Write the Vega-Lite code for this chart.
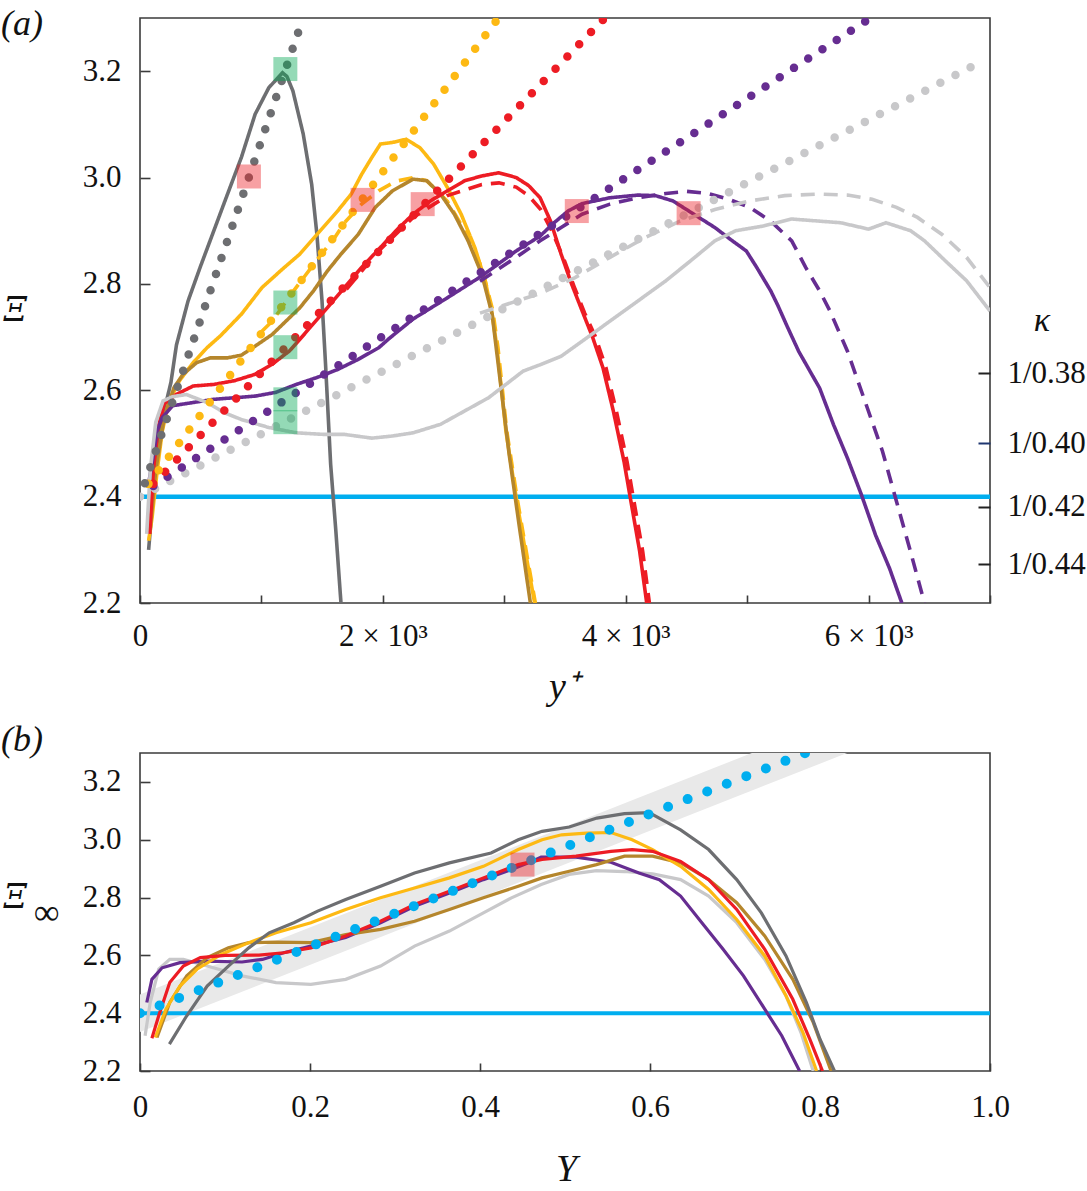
{
  "$schema": "https://vega.github.io/schema/vega-lite/v6.json",
  "background": "white",
  "padding": {"left": 0, "top": 4, "right": 0, "bottom": 0},
  "spacing": 13,
  "datasets": {
    "la": [
      {"s":"dg","t":"solid","x":71,"y":2.3},{"s":"dg","t":"solid","x":93,"y":2.36},{"s":"dg","t":"solid","x":113,"y":2.417},{"s":"dg","t":"solid","x":141,"y":2.473},{"s":"dg","t":"solid","x":170,"y":2.524},{"s":"dg","t":"solid","x":212,"y":2.574},{"s":"dg","t":"solid","x":255,"y":2.615},{"s":"dg","t":"solid","x":300,"y":2.685},{"s":"dg","t":"solid","x":396,"y":2.768},{"s":"dg","t":"solid","x":495,"y":2.831},{"s":"dg","t":"solid","x":608,"y":2.9},{"s":"dg","t":"solid","x":721,"y":2.969},{"s":"dg","t":"solid","x":835,"y":3.038},{"s":"dg","t":"solid","x":948,"y":3.119},{"s":"dg","t":"solid","x":1061,"y":3.169},{"s":"dg","t":"solid","x":1174,"y":3.197},{"s":"dg","t":"solid","x":1210,"y":3.19},{"s":"dg","t":"solid","x":1259,"y":3.163},{"s":"dg","t":"solid","x":1344,"y":3.082},{"s":"dg","t":"solid","x":1414,"y":2.987},{"s":"dg","t":"solid","x":1457,"y":2.893},{"s":"dg","t":"solid","x":1499,"y":2.768},{"s":"dg","t":"solid","x":1528,"y":2.649},{"s":"dg","t":"solid","x":1570,"y":2.461},{"s":"dg","t":"solid","x":1613,"y":2.335},{"s":"dg","t":"solid","x":1655,"y":2.2},
      {"s":"gold","t":"solid","x":71,"y":2.317},{"s":"gold","t":"solid","x":99,"y":2.36},{"s":"gold","t":"solid","x":141,"y":2.448},{"s":"gold","t":"solid","x":184,"y":2.524},{"s":"gold","t":"solid","x":240,"y":2.58},{"s":"gold","t":"solid","x":325,"y":2.618},{"s":"gold","t":"solid","x":438,"y":2.652},{"s":"gold","t":"solid","x":552,"y":2.68},{"s":"gold","t":"solid","x":665,"y":2.703},{"s":"gold","t":"solid","x":835,"y":2.743},{"s":"gold","t":"solid","x":1004,"y":2.793},{"s":"gold","t":"solid","x":1174,"y":2.828},{"s":"gold","t":"solid","x":1316,"y":2.856},{"s":"gold","t":"solid","x":1457,"y":2.893},{"s":"gold","t":"solid","x":1627,"y":2.937},{"s":"gold","t":"solid","x":1740,"y":2.969},{"s":"gold","t":"solid","x":1825,"y":3.006},{"s":"gold","t":"solid","x":1910,"y":3.038},{"s":"gold","t":"solid","x":1980,"y":3.063},{"s":"gold","t":"solid","x":2079,"y":3.066},{"s":"gold","t":"solid","x":2192,"y":3.072},{"s":"gold","t":"solid","x":2306,"y":3.056},{"s":"gold","t":"solid","x":2419,"y":3.025},{"s":"gold","t":"solid","x":2532,"y":2.981},{"s":"gold","t":"solid","x":2645,"y":2.931},{"s":"gold","t":"solid","x":2758,"y":2.868},{"s":"gold","t":"solid","x":2843,"y":2.806},{"s":"gold","t":"solid","x":2900,"y":2.743},{"s":"gold","t":"solid","x":2940,"y":2.68},{"s":"gold","t":"solid","x":3013,"y":2.524},{"s":"gold","t":"solid","x":3098,"y":2.398},{"s":"gold","t":"solid","x":3183,"y":2.285},{"s":"gold","t":"solid","x":3250,"y":2.2},
      {"s":"gold","t":"dashed","x":1000,"y":2.71},{"s":"gold","t":"dashed","x":1089,"y":2.73},{"s":"gold","t":"dashed","x":1259,"y":2.785},{"s":"gold","t":"dashed","x":1457,"y":2.845},{"s":"gold","t":"dashed","x":1598,"y":2.885},{"s":"gold","t":"dashed","x":1683,"y":2.915},{"s":"gold","t":"dashed","x":1825,"y":2.95},{"s":"gold","t":"dashed","x":1966,"y":2.975},{"s":"gold","t":"dashed","x":2108,"y":2.993},{"s":"gold","t":"dashed","x":2249,"y":3.0},{"s":"gold","t":"dashed","x":2362,"y":2.994},{"s":"gold","t":"dashed","x":2532,"y":2.955},{"s":"gold","t":"dashed","x":2702,"y":2.89},{"s":"gold","t":"dashed","x":2815,"y":2.83},{"s":"gold","t":"dashed","x":2905,"y":2.75},{"s":"gold","t":"dashed","x":2948,"y":2.68},{"s":"gold","t":"dashed","x":3020,"y":2.524},{"s":"gold","t":"dashed","x":3105,"y":2.398},{"s":"gold","t":"dashed","x":3190,"y":2.285},{"s":"gold","t":"dashed","x":3256,"y":2.2},
      {"s":"brown","t":"solid","x":80,"y":2.33},{"s":"brown","t":"solid","x":130,"y":2.45},{"s":"brown","t":"solid","x":200,"y":2.55},{"s":"brown","t":"solid","x":280,"y":2.605},{"s":"brown","t":"solid","x":354,"y":2.63},{"s":"brown","t":"solid","x":467,"y":2.652},{"s":"brown","t":"solid","x":580,"y":2.661},{"s":"brown","t":"solid","x":721,"y":2.661},{"s":"brown","t":"solid","x":835,"y":2.666},{"s":"brown","t":"solid","x":948,"y":2.683},{"s":"brown","t":"solid","x":1089,"y":2.705},{"s":"brown","t":"solid","x":1202,"y":2.73},{"s":"brown","t":"solid","x":1316,"y":2.755},{"s":"brown","t":"solid","x":1429,"y":2.787},{"s":"brown","t":"solid","x":1542,"y":2.824},{"s":"brown","t":"solid","x":1655,"y":2.856},{"s":"brown","t":"solid","x":1797,"y":2.893},{"s":"brown","t":"solid","x":1938,"y":2.944},{"s":"brown","t":"solid","x":2079,"y":2.975},{"s":"brown","t":"solid","x":2249,"y":2.997},{"s":"brown","t":"solid","x":2362,"y":2.994},{"s":"brown","t":"solid","x":2475,"y":2.969},{"s":"brown","t":"solid","x":2589,"y":2.931},{"s":"brown","t":"solid","x":2702,"y":2.881},{"s":"brown","t":"solid","x":2815,"y":2.818},{"s":"brown","t":"solid","x":2900,"y":2.743},{"s":"brown","t":"solid","x":2960,"y":2.63},{"s":"brown","t":"solid","x":3040,"y":2.48},{"s":"brown","t":"solid","x":3120,"y":2.35},{"s":"brown","t":"solid","x":3215,"y":2.2},
      {"s":"red","t":"solid","x":80,"y":2.33},{"s":"red","t":"solid","x":110,"y":2.45},{"s":"red","t":"solid","x":150,"y":2.53},{"s":"red","t":"solid","x":200,"y":2.575},{"s":"red","t":"solid","x":297,"y":2.592},{"s":"red","t":"solid","x":438,"y":2.608},{"s":"red","t":"solid","x":608,"y":2.611},{"s":"red","t":"solid","x":778,"y":2.618},{"s":"red","t":"solid","x":948,"y":2.63},{"s":"red","t":"solid","x":1089,"y":2.649},{"s":"red","t":"solid","x":1231,"y":2.674},{"s":"red","t":"solid","x":1344,"y":2.703},{"s":"red","t":"solid","x":1400,"y":2.718},{"s":"red","t":"solid","x":1542,"y":2.755},{"s":"red","t":"solid","x":1683,"y":2.793},{"s":"red","t":"solid","x":1825,"y":2.831},{"s":"red","t":"solid","x":1966,"y":2.865},{"s":"red","t":"solid","x":2108,"y":2.9},{"s":"red","t":"solid","x":2249,"y":2.931},{"s":"red","t":"solid","x":2391,"y":2.956},{"s":"red","t":"solid","x":2532,"y":2.975},{"s":"red","t":"solid","x":2674,"y":2.994},{"s":"red","t":"solid","x":2815,"y":3.003},{"s":"red","t":"solid","x":2956,"y":3.009},{"s":"red","t":"solid","x":3098,"y":3.0},{"s":"red","t":"solid","x":3200,"y":2.985},{"s":"red","t":"solid","x":3295,"y":2.962},{"s":"red","t":"solid","x":3381,"y":2.918},{"s":"red","t":"solid","x":3468,"y":2.856},{"s":"red","t":"solid","x":3554,"y":2.8},{"s":"red","t":"solid","x":3640,"y":2.75},{"s":"red","t":"solid","x":3727,"y":2.7},{"s":"red","t":"solid","x":3813,"y":2.642},{"s":"red","t":"solid","x":3899,"y":2.56},{"s":"red","t":"solid","x":3986,"y":2.466},{"s":"red","t":"solid","x":4043,"y":2.391},{"s":"red","t":"solid","x":4115,"y":2.297},{"s":"red","t":"solid","x":4173,"y":2.2},
      {"s":"red","t":"dashed","x":1700,"y":2.79},{"s":"red","t":"dashed","x":1966,"y":2.862},{"s":"red","t":"dashed","x":2249,"y":2.925},{"s":"red","t":"dashed","x":2532,"y":2.966},{"s":"red","t":"dashed","x":2815,"y":2.987},{"s":"red","t":"dashed","x":2956,"y":2.99},{"s":"red","t":"dashed","x":3098,"y":2.982},{"s":"red","t":"dashed","x":3200,"y":2.966},{"s":"red","t":"dashed","x":3300,"y":2.94},{"s":"red","t":"dashed","x":3390,"y":2.9},{"s":"red","t":"dashed","x":3485,"y":2.85},{"s":"red","t":"dashed","x":3575,"y":2.795},{"s":"red","t":"dashed","x":3662,"y":2.745},{"s":"red","t":"dashed","x":3752,"y":2.7},{"s":"red","t":"dashed","x":3838,"y":2.642},{"s":"red","t":"dashed","x":3924,"y":2.56},{"s":"red","t":"dashed","x":4011,"y":2.466},{"s":"red","t":"dashed","x":4068,"y":2.391},{"s":"red","t":"dashed","x":4140,"y":2.297},{"s":"red","t":"dashed","x":4195,"y":2.2},
      {"s":"purple","t":"solid","x":65,"y":2.417},{"s":"purple","t":"solid","x":99,"y":2.461},{"s":"purple","t":"solid","x":141,"y":2.524},{"s":"purple","t":"solid","x":184,"y":2.549},{"s":"purple","t":"solid","x":269,"y":2.571},{"s":"purple","t":"solid","x":438,"y":2.577},{"s":"purple","t":"solid","x":608,"y":2.583},{"s":"purple","t":"solid","x":778,"y":2.586},{"s":"purple","t":"solid","x":948,"y":2.589},{"s":"purple","t":"solid","x":1117,"y":2.596},{"s":"purple","t":"solid","x":1287,"y":2.611},{"s":"purple","t":"solid","x":1457,"y":2.624},{"s":"purple","t":"solid","x":1627,"y":2.639},{"s":"purple","t":"solid","x":1796,"y":2.658},{"s":"purple","t":"solid","x":1966,"y":2.68},{"s":"purple","t":"solid","x":2050,"y":2.697},{"s":"purple","t":"solid","x":2249,"y":2.734},{"s":"purple","t":"solid","x":2532,"y":2.774},{"s":"purple","t":"solid","x":2815,"y":2.815},{"s":"purple","t":"solid","x":3098,"y":2.862},{"s":"purple","t":"solid","x":3295,"y":2.89},{"s":"purple","t":"solid","x":3410,"y":2.915},{"s":"purple","t":"solid","x":3525,"y":2.937},{"s":"purple","t":"solid","x":3640,"y":2.951},{"s":"purple","t":"solid","x":3870,"y":2.962},{"s":"purple","t":"solid","x":4101,"y":2.967},{"s":"purple","t":"solid","x":4245,"y":2.966},{"s":"purple","t":"solid","x":4389,"y":2.956},{"s":"purple","t":"solid","x":4561,"y":2.931},{"s":"purple","t":"solid","x":4734,"y":2.906},{"s":"purple","t":"solid","x":4878,"y":2.881},{"s":"purple","t":"solid","x":4993,"y":2.862},{"s":"purple","t":"solid","x":5079,"y":2.831},{"s":"purple","t":"solid","x":5194,"y":2.787},{"s":"purple","t":"solid","x":5252,"y":2.76},{"s":"purple","t":"solid","x":5330,"y":2.72},{"s":"purple","t":"solid","x":5425,"y":2.673},{"s":"purple","t":"solid","x":5597,"y":2.604},{"s":"purple","t":"solid","x":5712,"y":2.535},{"s":"purple","t":"solid","x":5827,"y":2.472},{"s":"purple","t":"solid","x":5942,"y":2.403},{"s":"purple","t":"solid","x":6057,"y":2.328},{"s":"purple","t":"solid","x":6173,"y":2.265},{"s":"purple","t":"solid","x":6274,"y":2.2},
      {"s":"purple","t":"dashed","x":2800,"y":2.805},{"s":"purple","t":"dashed","x":3098,"y":2.85},{"s":"purple","t":"dashed","x":3295,"y":2.881},{"s":"purple","t":"dashed","x":3468,"y":2.906},{"s":"purple","t":"dashed","x":3640,"y":2.931},{"s":"purple","t":"dashed","x":3870,"y":2.95},{"s":"purple","t":"dashed","x":4101,"y":2.962},{"s":"purple","t":"dashed","x":4331,"y":2.97},{"s":"purple","t":"dashed","x":4504,"y":2.974},{"s":"purple","t":"dashed","x":4676,"y":2.97},{"s":"purple","t":"dashed","x":4849,"y":2.959},{"s":"purple","t":"dashed","x":5022,"y":2.944},{"s":"purple","t":"dashed","x":5194,"y":2.918},{"s":"purple","t":"dashed","x":5367,"y":2.881},{"s":"purple","t":"dashed","x":5482,"y":2.831},{"s":"purple","t":"dashed","x":5597,"y":2.787},{"s":"purple","t":"dashed","x":5680,"y":2.75},{"s":"purple","t":"dashed","x":5827,"y":2.673},{"s":"purple","t":"dashed","x":5971,"y":2.579},{"s":"purple","t":"dashed","x":6115,"y":2.485},{"s":"purple","t":"dashed","x":6230,"y":2.391},{"s":"purple","t":"dashed","x":6345,"y":2.297},{"s":"purple","t":"dashed","x":6460,"y":2.2},
      {"s":"lg","t":"solid","x":55,"y":2.33},{"s":"lg","t":"solid","x":85,"y":2.45},{"s":"lg","t":"solid","x":130,"y":2.54},{"s":"lg","t":"solid","x":190,"y":2.58},{"s":"lg","t":"solid","x":269,"y":2.588},{"s":"lg","t":"solid","x":382,"y":2.592},{"s":"lg","t":"solid","x":552,"y":2.577},{"s":"lg","t":"solid","x":693,"y":2.558},{"s":"lg","t":"solid","x":835,"y":2.545},{"s":"lg","t":"solid","x":1061,"y":2.53},{"s":"lg","t":"solid","x":1287,"y":2.52},{"s":"lg","t":"solid","x":1513,"y":2.517},{"s":"lg","t":"solid","x":1683,"y":2.517},{"s":"lg","t":"solid","x":1910,"y":2.51},{"s":"lg","t":"solid","x":2079,"y":2.514},{"s":"lg","t":"solid","x":2249,"y":2.52},{"s":"lg","t":"solid","x":2475,"y":2.536},{"s":"lg","t":"solid","x":2673,"y":2.561},{"s":"lg","t":"solid","x":2871,"y":2.586},{"s":"lg","t":"solid","x":3013,"y":2.611},{"s":"lg","t":"solid","x":3155,"y":2.636},{"s":"lg","t":"solid","x":3295,"y":2.648},{"s":"lg","t":"solid","x":3468,"y":2.664},{"s":"lg","t":"solid","x":3640,"y":2.692},{"s":"lg","t":"solid","x":3870,"y":2.73},{"s":"lg","t":"solid","x":4101,"y":2.768},{"s":"lg","t":"solid","x":4331,"y":2.806},{"s":"lg","t":"solid","x":4532,"y":2.843},{"s":"lg","t":"solid","x":4734,"y":2.881},{"s":"lg","t":"solid","x":4906,"y":2.9},{"s":"lg","t":"solid","x":5136,"y":2.909},{"s":"lg","t":"solid","x":5367,"y":2.922},{"s":"lg","t":"solid","x":5597,"y":2.918},{"s":"lg","t":"solid","x":5770,"y":2.915},{"s":"lg","t":"solid","x":6000,"y":2.903},{"s":"lg","t":"solid","x":6144,"y":2.915},{"s":"lg","t":"solid","x":6346,"y":2.9},{"s":"lg","t":"solid","x":6461,"y":2.881},{"s":"lg","t":"solid","x":6634,"y":2.843},{"s":"lg","t":"solid","x":6807,"y":2.806},{"s":"lg","t":"solid","x":7000,"y":2.749},
      {"s":"lg","t":"dashed","x":2800,"y":2.745},{"s":"lg","t":"dashed","x":2985,"y":2.759},{"s":"lg","t":"dashed","x":3295,"y":2.782},{"s":"lg","t":"dashed","x":3583,"y":2.812},{"s":"lg","t":"dashed","x":3870,"y":2.85},{"s":"lg","t":"dashed","x":4158,"y":2.887},{"s":"lg","t":"dashed","x":4446,"y":2.918},{"s":"lg","t":"dashed","x":4734,"y":2.94},{"s":"lg","t":"dashed","x":5022,"y":2.956},{"s":"lg","t":"dashed","x":5309,"y":2.966},{"s":"lg","t":"dashed","x":5597,"y":2.969},{"s":"lg","t":"dashed","x":5827,"y":2.967},{"s":"lg","t":"dashed","x":6029,"y":2.959},{"s":"lg","t":"dashed","x":6230,"y":2.944},{"s":"lg","t":"dashed","x":6403,"y":2.925},{"s":"lg","t":"dashed","x":6605,"y":2.893},{"s":"lg","t":"dashed","x":6807,"y":2.85},{"s":"lg","t":"dashed","x":7000,"y":2.793}
    ],
    "ld": [
      {"s":"lg","x":0,"y":2.4},{"s":"lg","x":6887,"y":3.213},
      {"s":"purple","x":110,"y":2.42},{"s":"purple","x":6015,"y":3.3},
      {"s":"red","x":110,"y":2.424},{"s":"red","x":3827,"y":3.3},
      {"s":"gold","x":70,"y":2.424},{"s":"gold","x":2951,"y":3.3},
      {"s":"dg","x":40,"y":2.425},{"s":"dg","x":1343,"y":3.3}
    ],
    "sa": [
      {"k":"green","x":1197,"y":3.204},{"k":"green","x":1197,"y":2.765},{"k":"green","x":1197,"y":2.681},{"k":"green","x":1197,"y":2.583},{"k":"green","x":1197,"y":2.54},
      {"k":"pink","x":897,"y":3.002},{"k":"pink","x":1833,"y":2.958},{"k":"pink","x":2328,"y":2.95},{"k":"pink","x":3597,"y":2.937},{"k":"pink","x":4518,"y":2.933}
    ],
    "lb": [
      {"s":"lg","x":0.006,"y":2.322},{"s":"lg","x":0.012,"y":2.437},{"s":"lg","x":0.022,"y":2.552},{"s":"lg","x":0.035,"y":2.586},{"s":"lg","x":0.051,"y":2.586},{"s":"lg","x":0.079,"y":2.563},{"s":"lg","x":0.12,"y":2.529},{"s":"lg","x":0.16,"y":2.506},{"s":"lg","x":0.201,"y":2.5},{"s":"lg","x":0.242,"y":2.517},{"s":"lg","x":0.283,"y":2.563},{"s":"lg","x":0.323,"y":2.632},{"s":"lg","x":0.364,"y":2.684},{"s":"lg","x":0.404,"y":2.747},{"s":"lg","x":0.437,"y":2.799},{"s":"lg","x":0.472,"y":2.845},{"s":"lg","x":0.505,"y":2.88},{"s":"lg","x":0.537,"y":2.893},{"s":"lg","x":0.57,"y":2.89},{"s":"lg","x":0.603,"y":2.882},{"s":"lg","x":0.636,"y":2.862},{"s":"lg","x":0.669,"y":2.805},{"s":"lg","x":0.702,"y":2.713},{"s":"lg","x":0.735,"y":2.586},{"s":"lg","x":0.76,"y":2.46},{"s":"lg","x":0.778,"y":2.33},{"s":"lg","x":0.792,"y":2.2},
      {"s":"purple","x":0.008,"y":2.437},{"s":"purple","x":0.014,"y":2.517},{"s":"purple","x":0.026,"y":2.557},{"s":"purple","x":0.047,"y":2.575},{"s":"purple","x":0.079,"y":2.58},{"s":"purple","x":0.12,"y":2.577},{"s":"purple","x":0.144,"y":2.586},{"s":"purple","x":0.169,"y":2.609},{"s":"purple","x":0.201,"y":2.632},{"s":"purple","x":0.242,"y":2.662},{"s":"purple","x":0.283,"y":2.713},{"s":"purple","x":0.323,"y":2.77},{"s":"purple","x":0.364,"y":2.816},{"s":"purple","x":0.404,"y":2.862},{"s":"purple","x":0.437,"y":2.897},{"s":"purple","x":0.457,"y":2.92},{"s":"purple","x":0.472,"y":2.94},{"s":"purple","x":0.513,"y":2.94},{"s":"purple","x":0.554,"y":2.922},{"s":"purple","x":0.587,"y":2.885},{"s":"purple","x":0.611,"y":2.862},{"s":"purple","x":0.636,"y":2.805},{"s":"purple","x":0.661,"y":2.713},{"s":"purple","x":0.686,"y":2.621},{"s":"purple","x":0.71,"y":2.529},{"s":"purple","x":0.735,"y":2.414},{"s":"purple","x":0.755,"y":2.322},{"s":"purple","x":0.776,"y":2.2},
      {"s":"brown","x":0.02,"y":2.316},{"s":"brown","x":0.035,"y":2.437},{"s":"brown","x":0.055,"y":2.529},{"s":"brown","x":0.079,"y":2.592},{"s":"brown","x":0.104,"y":2.626},{"s":"brown","x":0.128,"y":2.644},{"s":"brown","x":0.16,"y":2.646},{"s":"brown","x":0.201,"y":2.644},{"s":"brown","x":0.242,"y":2.672},{"s":"brown","x":0.283,"y":2.69},{"s":"brown","x":0.323,"y":2.718},{"s":"brown","x":0.364,"y":2.759},{"s":"brown","x":0.404,"y":2.799},{"s":"brown","x":0.445,"y":2.839},{"s":"brown","x":0.473,"y":2.868},{"s":"brown","x":0.505,"y":2.891},{"s":"brown","x":0.537,"y":2.914},{"s":"brown","x":0.57,"y":2.943},{"s":"brown","x":0.603,"y":2.943},{"s":"brown","x":0.636,"y":2.92},{"s":"brown","x":0.669,"y":2.862},{"s":"brown","x":0.702,"y":2.782},{"s":"brown","x":0.735,"y":2.667},{"s":"brown","x":0.768,"y":2.517},{"s":"brown","x":0.792,"y":2.368},{"s":"brown","x":0.813,"y":2.2},
      {"s":"gold","x":0.018,"y":2.316},{"s":"gold","x":0.0305,"y":2.414},{"s":"gold","x":0.047,"y":2.494},{"s":"gold","x":0.067,"y":2.552},{"s":"gold","x":0.0955,"y":2.603},{"s":"gold","x":0.128,"y":2.644},{"s":"gold","x":0.16,"y":2.678},{"s":"gold","x":0.201,"y":2.713},{"s":"gold","x":0.242,"y":2.759},{"s":"gold","x":0.283,"y":2.799},{"s":"gold","x":0.323,"y":2.833},{"s":"gold","x":0.364,"y":2.868},{"s":"gold","x":0.404,"y":2.908},{"s":"gold","x":0.445,"y":2.966},{"s":"gold","x":0.473,"y":3.0},{"s":"gold","x":0.496,"y":3.017},{"s":"gold","x":0.525,"y":3.023},{"s":"gold","x":0.554,"y":3.025},{"s":"gold","x":0.579,"y":3.0},{"s":"gold","x":0.603,"y":2.966},{"s":"gold","x":0.636,"y":2.908},{"s":"gold","x":0.669,"y":2.828},{"s":"gold","x":0.702,"y":2.724},{"s":"gold","x":0.735,"y":2.598},{"s":"gold","x":0.76,"y":2.46},{"s":"gold","x":0.78,"y":2.333},{"s":"gold","x":0.796,"y":2.2},
      {"s":"red","x":0.014,"y":2.313},{"s":"red","x":0.022,"y":2.391},{"s":"red","x":0.035,"y":2.506},{"s":"red","x":0.051,"y":2.563},{"s":"red","x":0.071,"y":2.592},{"s":"red","x":0.1,"y":2.6},{"s":"red","x":0.14,"y":2.601},{"s":"red","x":0.169,"y":2.609},{"s":"red","x":0.201,"y":2.626},{"s":"red","x":0.242,"y":2.667},{"s":"red","x":0.283,"y":2.718},{"s":"red","x":0.323,"y":2.776},{"s":"red","x":0.364,"y":2.822},{"s":"red","x":0.404,"y":2.868},{"s":"red","x":0.445,"y":2.914},{"s":"red","x":0.473,"y":2.932},{"s":"red","x":0.513,"y":2.943},{"s":"red","x":0.554,"y":2.96},{"s":"red","x":0.579,"y":2.966},{"s":"red","x":0.603,"y":2.96},{"s":"red","x":0.636,"y":2.925},{"s":"red","x":0.669,"y":2.862},{"s":"red","x":0.702,"y":2.759},{"s":"red","x":0.735,"y":2.621},{"s":"red","x":0.768,"y":2.448},{"s":"red","x":0.788,"y":2.31},{"s":"red","x":0.803,"y":2.2},
      {"s":"dg","x":0.0346,"y":2.293},{"s":"dg","x":0.055,"y":2.391},{"s":"dg","x":0.079,"y":2.494},{"s":"dg","x":0.104,"y":2.563},{"s":"dg","x":0.128,"y":2.626},{"s":"dg","x":0.152,"y":2.678},{"s":"dg","x":0.181,"y":2.713},{"s":"dg","x":0.209,"y":2.753},{"s":"dg","x":0.242,"y":2.793},{"s":"dg","x":0.283,"y":2.839},{"s":"dg","x":0.323,"y":2.885},{"s":"dg","x":0.364,"y":2.92},{"s":"dg","x":0.413,"y":2.954},{"s":"dg","x":0.445,"y":3.0},{"s":"dg","x":0.473,"y":3.029},{"s":"dg","x":0.505,"y":3.044},{"s":"dg","x":0.5375,"y":3.075},{"s":"dg","x":0.57,"y":3.09},{"s":"dg","x":0.599,"y":3.094},{"s":"dg","x":0.636,"y":3.034},{"s":"dg","x":0.669,"y":2.966},{"s":"dg","x":0.702,"y":2.862},{"s":"dg","x":0.731,"y":2.747},{"s":"dg","x":0.76,"y":2.598},{"s":"dg","x":0.784,"y":2.437},{"s":"dg","x":0.8,"y":2.31},{"s":"dg","x":0.817,"y":2.2}
    ],
    "bd": [{"x":0,"lo":2.335,"hi":2.465},{"x":1,"lo":3.495,"hi":3.625}],
    "cd": [{"x":0,"y":2.4},{"x":0.783,"y":3.3}],
    "sb": [{"k":"pink","x":0.45,"y":2.914}]
  },
  "vconcat": [
    {
      "width": 850,
      "height": 585,
      "resolve": {"scale": {"x": "independent", "y": "independent"}},
      "layer": [
        {
          "data": {"values": [{"v": 2.4}]},
          "mark": {"type": "rule", "color": "#00aeef", "strokeWidth": 4.5},
          "encoding": {
            "y": {"field": "v", "type": "quantitative",
              "scale": {"domain": [2.2, 3.3], "nice": false, "zero": false},
              "axis": {"orient": "right", "title": null, "values": [2.2727, 2.381, 2.5, 2.6316],
                "labelExpr": "datum.value < 2.3 ? '1/0.44' : (datum.value < 2.45 ? '1/0.42' : (datum.value < 2.55 ? '1/0.40' : '1/0.38'))",
                "labelFont": "Liberation Serif", "labelFontSize": 31, "labelColor": "#111111",
                "tickSize": -12, "tickWidth": 2, "labelPadding": 29, "grid": false, "domain": false,
                "tickColor": {"condition": {"test": "abs(datum.value - 2.5) < 0.01", "value": "#1f3670"}, "value": "#222222"}}}
          }
        },
        {
          "data": {"name": "la"},
          "mark": {"type": "line", "strokeWidth": 3.6, "clip": true},
          "encoding": {
            "x": {"field": "x", "type": "quantitative",
              "scale": {"domain": [0, 7000], "nice": false, "zero": false},
              "axis": {"orient": "bottom", "title": null, "values": [0,1000,2000,3000,4000,5000,6000,7000],
                "labelExpr": "datum.value == 0 ? '0' : (datum.value % 2000 == 0 ? (datum.value / 1000) + ' × 10³' : '')",
                "labelFont": "Liberation Serif, DejaVu Serif, serif", "labelFontSize": 31, "labelColor": "#111111", "labelFontStyle": "normal", "labelFontWeight": "normal",
                "tickSize": -8, "tickWidth": 1.6, "labelPadding": 26, "labelFlush": false, "grid": false, "domain": false,
                "tickColor": {"condition": {"test": "datum.value < 0", "value": "#3b3b3b"}, "value": "#3b3b3b"}}},
            "y": {"field": "y", "type": "quantitative",
              "scale": {"domain": [2.2, 3.3], "nice": false, "zero": false},
              "axis": {"orient": "left", "title": null, "values": [2.2, 2.4, 2.6, 2.8, 3.0, 3.2],
                "labelExpr": "format(datum.value, '.1f')",
                "labelFont": "Liberation Serif, DejaVu Serif, serif", "labelFontSize": 31, "labelColor": "#111111", "labelFontStyle": "normal", "labelFontWeight": "normal",
                "tickSize": -10, "tickWidth": 1.6, "labelPadding": 29, "grid": false, "domain": false,
                "tickColor": {"condition": {"test": "datum.value < 0", "value": "#3b3b3b"}, "value": "#3b3b3b"}}},
            "color": {"field": "s", "type": "nominal", "legend": null,
              "scale": {"domain": ["dg","gold","brown","red","purple","lg","pink","green"],
                "range": ["#6d6e71","#fdb913","#b5862c","#ed1c24","#662d91","#c8c8ca","#ed1c24","#00a651"]}},
            "strokeDash": {"field": "t", "type": "nominal", "legend": null,
              "scale": {"domain": ["solid", "dashed"], "range": [[1, 0], [14, 9]]}}
          }
        },
        {
          "data": {"name": "ld"},
          "mark": {"type": "line", "strokeWidth": 8.5, "strokeCap": "round", "strokeDash": [0, 17], "clip": true},
          "encoding": {
            "x": {"field": "x", "type": "quantitative", "scale": {"domain": [0, 7000], "nice": false, "zero": false}, "axis": null},
            "y": {"field": "y", "type": "quantitative", "scale": {"domain": [2.2, 3.3], "nice": false, "zero": false}, "axis": null},
            "color": {"field": "s", "type": "nominal", "legend": null}
          }
        },
        {
          "data": {"name": "sa"},
          "mark": {"type": "square", "size": 576, "opacity": 0.42, "filled": true},
          "encoding": {
            "x": {"field": "x", "type": "quantitative", "scale": {"domain": [0, 7000], "nice": false, "zero": false}, "axis": null},
            "y": {"field": "y", "type": "quantitative", "scale": {"domain": [2.2, 3.3], "nice": false, "zero": false}, "axis": null},
            "color": {"field": "k", "type": "nominal", "legend": null}
          }
        },
        {
          "data": {"values": [{"t": "(a)"}]},
          "mark": {"type": "text", "font": "Liberation Serif", "fontSize": 36, "fontStyle": "italic", "align": "left", "baseline": "alphabetic", "color": "#111111"},
          "encoding": {
            "x": {"datum": -1145, "type": "quantitative", "scale": {"domain": [0, 7000], "nice": false, "zero": false}, "axis": null},
            "y": {"datum": 3.2685, "type": "quantitative", "scale": {"domain": [2.2, 3.3], "nice": false, "zero": false}, "axis": null},
            "text": {"field": "t"}
          }
        },
        {
          "data": {"values": [{"t": "Ξ"}]},
          "mark": {"type": "text", "font": "DejaVu Serif", "fontSize": 33, "fontStyle": "italic", "align": "right", "baseline": "middle", "color": "#111111"},
          "encoding": {
            "x": {"datum": -930, "type": "quantitative", "scale": {"domain": [0, 7000], "nice": false, "zero": false}, "axis": null},
            "y": {"datum": 2.7485, "type": "quantitative", "scale": {"domain": [2.2, 3.3], "nice": false, "zero": false}, "axis": null},
            "text": {"field": "t"}
          }
        },
        {
          "data": {"values": [{"t": "y⁺"}]},
          "mark": {"type": "text", "font": "Liberation Serif", "fontSize": 38, "fontStyle": "italic", "align": "center", "baseline": "alphabetic", "color": "#111111"},
          "encoding": {
            "x": {"datum": 3492, "type": "quantitative", "scale": {"domain": [0, 7000], "nice": false, "zero": false}, "axis": null},
            "y": {"datum": 2.0203, "type": "quantitative", "scale": {"domain": [2.2, 3.3], "nice": false, "zero": false}, "axis": null},
            "text": {"field": "t"}
          }
        },
        {
          "data": {"values": [{"t": "κ"}]},
          "mark": {"type": "text", "font": "Liberation Serif", "fontSize": 34, "fontStyle": "italic", "align": "center", "baseline": "alphabetic", "color": "#111111"},
          "encoding": {
            "x": {"datum": 7428, "type": "quantitative", "scale": {"domain": [0, 7000], "nice": false, "zero": false}, "axis": null},
            "y": {"datum": 2.711, "type": "quantitative", "scale": {"domain": [2.2, 3.3], "nice": false, "zero": false}, "axis": null},
            "text": {"field": "t"}
          }
        }
      ]
    },
    {
      "width": 850,
      "height": 318,
      "resolve": {"scale": {"x": "independent", "y": "independent"}},
      "layer": [
        {
          "data": {"name": "bd"},
          "mark": {"type": "area", "color": "#e9e9e9", "clip": true},
          "encoding": {
            "x": {"field": "x", "type": "quantitative",
              "scale": {"domain": [0, 1], "nice": false, "zero": false},
              "axis": {"orient": "bottom", "title": null, "values": [0, 0.2, 0.4, 0.6, 0.8, 1.0],
                "labelExpr": "datum.value == 0 ? '0' : format(datum.value, '.1f')",
                "labelFont": "Liberation Serif, DejaVu Serif, serif", "labelFontSize": 31, "labelColor": "#111111", "labelFontStyle": "normal", "labelFontWeight": "normal",
                "tickSize": -8, "tickWidth": 1.6, "labelPadding": 29, "labelFlush": false, "grid": false, "domain": false,
                "tickColor": {"condition": {"test": "datum.value < 0", "value": "#3b3b3b"}, "value": "#3b3b3b"}}},
            "y": {"field": "lo", "type": "quantitative",
              "scale": {"domain": [2.2, 3.3], "nice": false, "zero": false},
              "axis": {"orient": "left", "title": null, "values": [2.2, 2.4, 2.6, 2.8, 3.0, 3.2],
                "labelExpr": "format(datum.value, '.1f')",
                "labelFont": "Liberation Serif, DejaVu Serif, serif", "labelFontSize": 31, "labelColor": "#111111", "labelFontStyle": "normal", "labelFontWeight": "normal",
                "tickSize": -10, "tickWidth": 1.6, "labelPadding": 29, "grid": false, "domain": false,
                "tickColor": {"condition": {"test": "datum.value < 0", "value": "#3b3b3b"}, "value": "#3b3b3b"}}},
            "y2": {"field": "hi"}
          }
        },
        {
          "data": {"values": [{"v": 2.4}]},
          "mark": {"type": "rule", "color": "#00aeef", "strokeWidth": 4},
          "encoding": {"y": {"field": "v", "type": "quantitative", "scale": {"domain": [2.2, 3.3], "nice": false, "zero": false}, "axis": null}}
        },
        {
          "data": {"name": "lb"},
          "mark": {"type": "line", "strokeWidth": 3.2, "clip": true},
          "encoding": {
            "x": {"field": "x", "type": "quantitative", "scale": {"domain": [0, 1], "nice": false, "zero": false}, "axis": null},
            "y": {"field": "y", "type": "quantitative", "scale": {"domain": [2.2, 3.3], "nice": false, "zero": false}, "axis": null},
            "color": {"field": "s", "type": "nominal", "legend": null,
              "scale": {"domain": ["dg","gold","brown","red","purple","lg","pink","green"],
                "range": ["#6d6e71","#fdb913","#b5862c","#ed1c24","#662d91","#c8c8ca","#ed1c24","#00a651"]}}
          }
        },
        {
          "data": {"name": "cd"},
          "mark": {"type": "line", "color": "#00aeef", "strokeWidth": 10, "strokeCap": "round", "strokeDash": [0, 21], "clip": true},
          "encoding": {
            "x": {"field": "x", "type": "quantitative", "scale": {"domain": [0, 1], "nice": false, "zero": false}, "axis": null},
            "y": {"field": "y", "type": "quantitative", "scale": {"domain": [2.2, 3.3], "nice": false, "zero": false}, "axis": null}
          }
        },
        {
          "data": {"name": "sb"},
          "mark": {"type": "square", "size": 576, "opacity": 0.42, "filled": true},
          "encoding": {
            "x": {"field": "x", "type": "quantitative", "scale": {"domain": [0, 1], "nice": false, "zero": false}, "axis": null},
            "y": {"field": "y", "type": "quantitative", "scale": {"domain": [2.2, 3.3], "nice": false, "zero": false}, "axis": null},
            "color": {"field": "k", "type": "nominal", "legend": null}
          }
        },
        {
          "data": {"values": [{"t": "(b)"}]},
          "mark": {"type": "text", "font": "Liberation Serif", "fontSize": 36, "fontStyle": "italic", "align": "left", "baseline": "alphabetic", "color": "#111111"},
          "encoding": {
            "x": {"datum": -0.1635, "type": "quantitative", "scale": {"domain": [0, 1], "nice": false, "zero": false}, "axis": null},
            "y": {"datum": 3.306, "type": "quantitative", "scale": {"domain": [2.2, 3.3], "nice": false, "zero": false}, "axis": null},
            "text": {"field": "t"}
          }
        },
        {
          "data": {"values": [{"t": "Ξ"}]},
          "mark": {"type": "text", "font": "DejaVu Serif", "fontSize": 33, "fontStyle": "italic", "align": "right", "baseline": "alphabetic", "color": "#111111"},
          "encoding": {
            "x": {"datum": -0.1331, "type": "quantitative", "scale": {"domain": [0, 1], "nice": false, "zero": false}, "axis": null},
            "y": {"datum": 2.765, "type": "quantitative", "scale": {"domain": [2.2, 3.3], "nice": false, "zero": false}, "axis": null},
            "text": {"field": "t"}
          }
        },
        {
          "data": {"values": [{"t": "∞"}]},
          "mark": {"type": "text", "font": "Liberation Serif", "fontSize": 36, "align": "center", "baseline": "middle", "color": "#111111"},
          "encoding": {
            "x": {"datum": -0.11, "type": "quantitative", "scale": {"domain": [0, 1], "nice": false, "zero": false}, "axis": null},
            "y": {"datum": 2.748, "type": "quantitative", "scale": {"domain": [2.2, 3.3], "nice": false, "zero": false}, "axis": null},
            "text": {"field": "t"}
          }
        },
        {
          "data": {"values": [{"t": "Y"}]},
          "mark": {"type": "text", "font": "Liberation Serif", "fontSize": 38, "fontStyle": "italic", "align": "center", "baseline": "alphabetic", "color": "#111111"},
          "encoding": {
            "x": {"datum": 0.5018, "type": "quantitative", "scale": {"domain": [0, 1], "nice": false, "zero": false}, "axis": null},
            "y": {"datum": 1.8204, "type": "quantitative", "scale": {"domain": [2.2, 3.3], "nice": false, "zero": false}, "axis": null},
            "text": {"field": "t"}
          }
        }
      ]
    }
  ],
  "config": {
    "font": "Liberation Serif",
    "view": {"stroke": "#3b3b3b", "strokeWidth": 1.6},
    "style": {
      "guide-label": {"font": "Liberation Serif", "fontSize": 31, "fill": "#111111"},
      "guide-title": {"font": "Liberation Serif", "fontSize": 38, "fontStyle": "italic", "fontWeight": "normal", "fill": "#111111"}
    },
    "axis": {"grid": false, "domain": false, "labelFont": "Liberation Serif", "labelFontSize": 31, "labelColor": "#111111",
      "tickColor": "#3b3b3b", "tickWidth": 1.6, "labelOverlap": false},
    "text": {"font": "Liberation Serif"}
  }
}
